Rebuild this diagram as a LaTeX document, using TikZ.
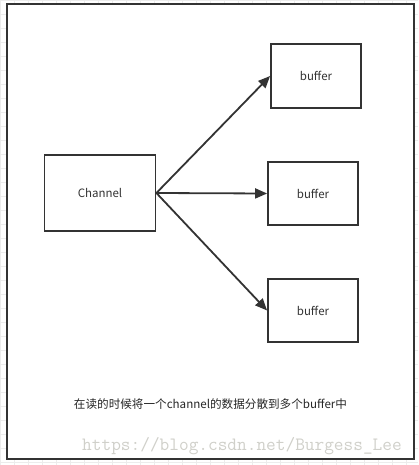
\documentclass[tikz,border=0pt]{standalone}
\usepackage{fontspec}
\setmainfont{Noto Sans CJK SC}
\usepackage{xcolor}
\usetikzlibrary{arrows.meta}

\definecolor{linea}{HTML}{333333}
\definecolor{griglia}{HTML}{ECECEC}
\definecolor{filigrana}{HTML}{D0D0CA}

\begin{document}
\begin{tikzpicture}[x=1pt, y=-1pt,
        scatola/.style={draw=linea, line width=1.8pt, inner sep=0pt,
            minimum width=90pt, minimum height=63pt,
            text=linea, font=\fontsize{11.5}{13}\selectfont},
        freccia/.style={draw=linea, line width=1.8pt,
            -{Triangle[length=12pt, width=10pt]}}]
        \useasboundingbox (0,0) rectangle (418,465);

        % Sfondo a griglia e cornice
        \draw[griglia, step=14pt] (0,0) grid (418,465);
        \draw[linea, line width=2pt, fill=white] (7,4) rectangle (414,459);

        % Sorgente
        \node[scatola, minimum width=111pt, minimum height=76pt] (channel) at (100,193) {Channel};

        % Destinazioni
        \node[scatola, minimum height=64pt] (buf1) at (316,76) {buffer};
        \node[scatola] (buf2) at (313,193.5) {buffer};
        \node[scatola] (buf3) at (313,310.5) {buffer};

        % Frecce
        \draw[freccia] (channel.east) -- (buf1.west);
        \draw[freccia] (channel.east) -- (buf2.west);
        \draw[freccia] (channel.east) -- (buf3.west);

        % Didascalia
        \node[font=\fontsize{11.6}{13}\selectfont, text=black!85] (testo) at (210.5,404) {在读的时候将一个channel的数据分散到多个buffer中};
        \node[font=\ttfamily\fontsize{18.8}{20}\selectfont, text=filigrana] (firma) at (242,446) {https://blog.csdn.net/Burgess\_Lee};
    \end{tikzpicture}
\end{document}
